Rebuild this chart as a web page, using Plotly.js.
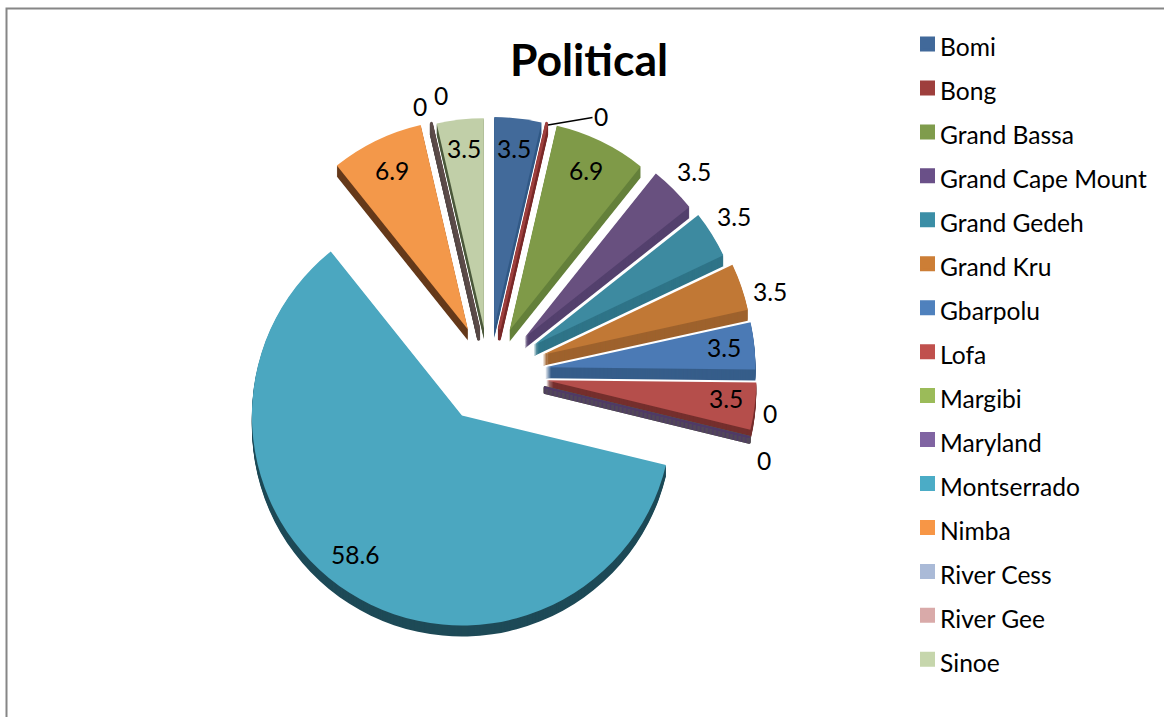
<!DOCTYPE html>
<html>
<head>
<meta charset="utf-8">
<script src="https://cdn.plot.ly/plotly-3.0.1.min.js"></script>
<style>html,body{margin:0;padding:0;background:#fff}#chart{width:1164px;height:717px}</style>
</head>
<body>
<div id="chart"></div>
<script>
// Share of political respondents per county
const counties = ['Bomi','Bong','Grand Bassa','Grand Cape Mount','Grand Gedeh','Grand Kru','Gbarpolu','Lofa','Margibi','Maryland','Montserrado','Nimba','River Cess','River Gee','Sinoe'];
const shares = [3.5,0,6.9,3.5,3.5,3.5,3.5,3.5,0,0,58.6,6.9,0,0,3.5];

const keyColours  = ['#41699a','#9e3f3d','#7f9c4c','#6a5088','#3b8ea6','#cc7e36','#4f81bd','#c0504d','#9bbb59','#8064a2','#4bacc6','#f79646','#aabad7','#d9aaa9','#c6d6ac'];
const faceColours = ['#426a9a','#9e3f3d','#7f9a48','#68507f','#3d8aa0','#c17835','#4b7ab5','#b54e4b','#9bbb59','#8064a2','#4ba7c0','#f3984a','#aabad7','#5d4c4a','#c1cfa8'];
const wallColours = ['#335a87','#7a2b2a','#64803a','#53406d','#2f7488','#9e622d','#365d8a','#752f2d','#5f7434','#4f3a66','#1e4a57','#65391a','#574a48','#574a48','#4d5a3c'];

// How far each slice is pulled out of the pie, as a fraction of the radius
const pulls = [0.22,0.22,0.225,0.24,0.25,0.27,0.27,0.275,0.275,0.275,0.24,0.23,0.22,0.22,0.215];

const W = 1164, H = 717;
const px = x => x / W, py = y => 1 - y / H;

// Geometry of the exploded pie, in page pixels
const maxPull = Math.max(...pulls);
const radius = 210, span = radius * (1 + maxPull);
const centre = {x: 489, y: 373}, wallDepth = 11;

function pieDomain(dy) {
  return {
    x: [px(centre.x - span), px(centre.x + span)],
    y: [py(centre.y + dy + span), py(centre.y + dy - span)]
  };
}

function pieLayer(dy, colours, zeroWidth) {
  return {
    type: 'pie', labels: counties, values: shares, sort: false, direction: 'clockwise', rotation: 0,
    pull: pulls, domain: pieDomain(dy), textinfo: 'none', showlegend: false, hoverinfo: 'label+value',
    marker: {colors: colours, line: {color: colours, width: shares.map((v, i) => v === 0 ? zeroWidth[i] : 0)}}
  };
}

// Small key-only pie tucked under the large slice: it supplies the legend swatches
const keyTrace = {
  type: 'pie', labels: counties.map(c => `<span style="font-size:24.6px">${c}</span>`), values: shares,
  sort: false, direction: 'clockwise', rotation: 0, textinfo: 'none', hoverinfo: 'skip',
  domain: {x: [px(458), px(460)], y: [py(441), py(439)]},
  marker: {colors: keyColours, line: {color: keyColours, width: 3}}
};

// Side walls are stacked copies shifted downward, deepest first
const walls = [];
for (let d = wallDepth; d > 0; d -= 1) {
  const stripWidth = counties.map((c, i) => (d <= 6 || i === 1 || i > 11) ? 3 : 0);
  walls.push(pieLayer(d, wallColours, stripWidth));
}
const faceLayer = pieLayer(0, faceColours, counties.map((c, i) => (i === 1 || i === 13) ? 3 : 0));

// Data label anchors, one per county, in page pixels
const labelX = [514,0,586,694,734,770,724,726,770,764,355,392,420,441,464];
const labelY = [148,0,170,172,217,292,348,398,414,460,554,170,106,95,148];
const labelFont = {family: 'Lato, Carlito, sans-serif', size: 24.6, color: '#000'};

const annotations = shares.map((v, i) => i === 1
  ? {text: String(v), x: px(548), y: py(125), xref: 'paper', yref: 'paper', showarrow: true,
     ax: 53, ay: -9, arrowhead: 0, arrowwidth: 1.4, arrowcolor: '#000', font: labelFont}
  : {text: String(v), x: px(labelX[i]), y: py(labelY[i]), xref: 'paper', yref: 'paper',
     showarrow: false, xanchor: 'center', yanchor: 'middle', font: labelFont});

const layout = {
  width: W, height: H,
  margin: {l: 0, r: 0, t: 0, b: 0, autoexpand: false},
  paper_bgcolor: '#fff',
  title: {text: 'Political', x: px(589), y: py(60), xref: 'paper', yref: 'paper', xanchor: 'center', yanchor: 'middle',
          font: {family: 'Lato, Carlito, sans-serif', size: 44.5, weight: 700, color: '#000'}},
  legend: {x: px(905), y: py(17), xanchor: 'left', yanchor: 'top', xref: 'paper', yref: 'paper',
           font: {family: 'Lato, Carlito, sans-serif', size: 31.5, color: '#000'}, bgcolor: 'rgba(0,0,0,0)', indentation: -5},
  annotations,
  shapes: [{type: 'rect', xref: 'paper', yref: 'paper', x0: px(6.5), x1: 1.02, y0: -0.02, y1: py(8.5),
            line: {color: '#868686', width: 2}, fillcolor: 'rgba(0,0,0,0)', layer: 'below'}]
};

Plotly.newPlot('chart', [keyTrace, ...walls, faceLayer], layout, {displayModeBar: false, responsive: false}).then(() => {
  // Bring the swatches closer to their labels than the legend's fixed item gap allows
  document.querySelectorAll('#chart .legendpoints').forEach(g => g.setAttribute('transform', 'translate(7.5,0)'));
});
</script>
</body>
</html>
